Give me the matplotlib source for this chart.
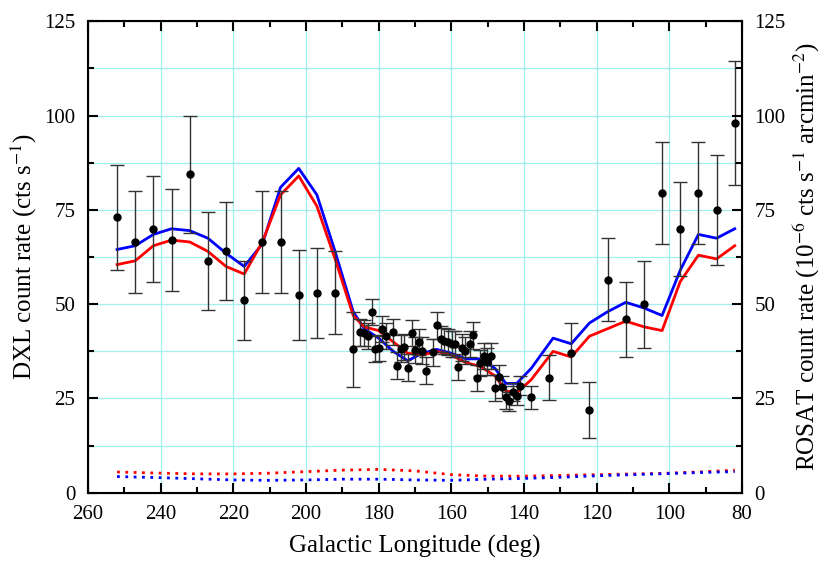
import matplotlib
matplotlib.use("Agg")
import matplotlib.pyplot as plt
from matplotlib.ticker import MultipleLocator

plt.rcParams['font.family'] = ['Liberation Serif', 'DejaVu Serif']
plt.rcParams['mathtext.fontset'] = 'stix'

lon = [252,247,242,237,232,227,222,217,212,207,202,197,192,187,
       185.1,184.0,182.9,181.9,180.9,179.8,179.0,178.0,176.0,175.0,173.9,173.0,172.0,170.9,170.0,169.0,168.0,166.9,
       165.0,164.0,162.9,161.9,161.0,159.9,159.0,158.1,157.2,156.2,155.0,154.1,153.0,152.1,151.0,150.1,149.1,148.0,
       146.9,146.0,145.0,144.0,143.1,142.0,141.1,138.1,
       133,127,122,117,112,107,102,97,92,87,82]
rate = [73,66.5,70,67,84.5,61.5,64,51,66.5,66.5,52.5,53,53,38,
        42.5,42.4,41.5,47.9,38.1,38.4,43.5,41.5,42.6,33.7,38.2,38.7,33.2,42.4,37.9,39.9,37.7,32.4,
        37.2,44.4,40.8,40.3,40.0,39.5,39.5,33.3,38.5,37.7,39.5,41.7,30.4,34.4,36.3,34.8,36.3,27.7,
        30.8,28.0,25.3,24.2,26.7,25.7,28.4,25.3,
        30.5,37,22,56.5,46,50,79.5,70,79.5,75,98]
err = [14,13.5,14,13.5,15.5,13,13,10.5,13.5,13.5,12,12,11,10,
       3.5,3.5,3.5,3.5,3.5,3.5,3.5,3.5,3.5,3.5,3.5,3.5,3.5,3.5,3.5,3.5,3.5,3.5,
       3.5,3.5,3.5,3.5,3.5,3.5,3.5,3.5,3.5,3.5,3.5,3.5,3.5,3.5,3.5,3.5,3.5,3.5,
       3,3,3,2.5,2.5,2.5,2.5,3,
       6,8,7.5,11,10,11.5,13.5,12.5,13.5,14.5,16.5]

mlon = [252,247,242,237,232,227,222,217,212,207,202,197,192,187,184,180,176,172,168,164,160,156,152,148,145,142,138,132,127,122,117,112,107,102,97,92,87,82]
blue = [64.5,65.5,68.5,70,69.5,67.5,63.5,60,66,81,86,79,64,48,43.5,41,37.5,35,37,38,37,35.5,35.5,33,29,29,33,41,39.5,45,48,50.5,49,47,59,68.5,67.5,70]
red = [60.5,61.5,65.5,67,66.5,64,60,58,66.5,79,84,76,62,47,44,43,40,37,36.5,37.5,36.5,34.5,33.5,31,27,26.5,30,37.5,36,41.5,43.5,45.5,44,43,56,63,62,65.5]
dlon = [252,240,230,220,210,200,190,180,170,160,150,140,130,120,110,100,90,82]
dred = [5.5,5.2,5.0,5.0,5.2,5.6,6.0,6.2,5.8,4.8,4.4,4.4,4.6,4.8,5.0,5.2,5.6,6.0]
dblue = [4.3,4.0,3.7,3.4,3.3,3.4,3.6,3.6,3.4,3.3,3.6,3.8,4.1,4.5,4.8,5.1,5.4,5.6]

fig = plt.figure(figsize=(8.30,5.77), dpi=100)
ax = fig.add_axes([0.106, 0.146, 0.788, 0.817])
ax.grid(True, which='major', axis='x', color='#a0f0f0', lw=0.9)
ax.grid(True, which='both', axis='y', color='#a0f0f0', lw=0.9)
ax.set_axisbelow(True)
ax.plot(mlon, blue, color='blue', lw=2)
ax.plot(mlon, red, color='red', lw=2)
ax.plot(dlon, dred, color='red', lw=2, ls=(0,(1,2)))
ax.plot(dlon, dblue, color='blue', lw=2, ls=(0,(1,2)))
ax.errorbar(lon, rate, yerr=err, fmt='o', color='black', ms=5, ecolor='#333333', elinewidth=1, capsize=5, capthick=1)
ax.set_xlim(260, 80)
ax.set_ylim(0, 125)
ax.xaxis.set_major_locator(MultipleLocator(20))
ax.xaxis.set_minor_locator(MultipleLocator(10))
ax.yaxis.set_major_locator(MultipleLocator(25))
ax.yaxis.set_minor_locator(MultipleLocator(12.5))
ax.tick_params(which='both', direction='in', top=True, labelsize=15, width=1.5)
ax.tick_params(which='major', length=7, pad=9)
ax.tick_params(which='minor', length=4)
for s in ax.spines.values():
    s.set_linewidth(1.5)
ax.set_xlabel('Galactic Longitude (deg)', fontsize=18, labelpad=8)
ax.set_ylabel('DXL count rate (cts s$^{-1}$)', fontsize=18, labelpad=4)
ax2 = ax.twinx()
ax2.set_ylim(0, 125)
ax2.yaxis.set_major_locator(MultipleLocator(25))
ax2.yaxis.set_minor_locator(MultipleLocator(12.5))
ax2.tick_params(which='both', direction='in', labelsize=15, width=1.5)
ax2.tick_params(which='major', length=7, pad=9)
ax2.tick_params(which='minor', length=4)
ax2.set_ylabel('ROSAT count rate (10$^{-6}$ cts s$^{-1}$ arcmin$^{-2}$)', fontsize=18, labelpad=4)
fig.savefig('out.png', dpi=100)
